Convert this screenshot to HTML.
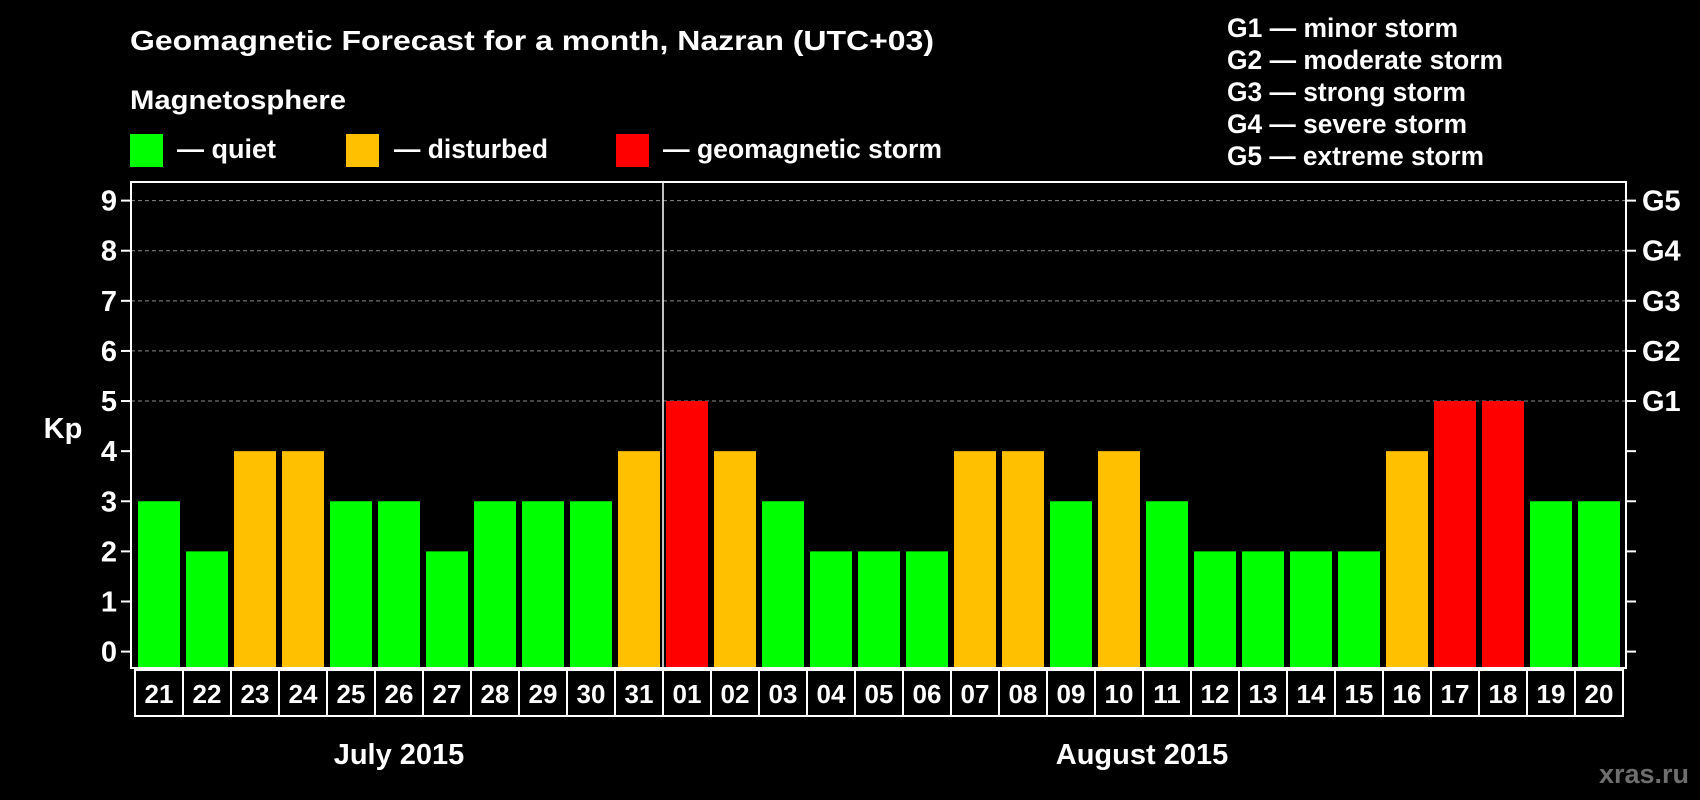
<!DOCTYPE html>
<html><head><meta charset="utf-8"><style>
html,body{margin:0;padding:0;background:#000;}
svg{display:block;font-family:"Liberation Sans",Arial,sans-serif;font-weight:bold;}
</style></head><body>
<svg id="chart" width="1700" height="800" viewBox="0 0 1700 800">
<rect x="0" y="0" width="1700" height="800" fill="#000"/>
<text x="130" y="50" fill="#fff" font-size="28" textLength="804" lengthAdjust="spacingAndGlyphs">Geomagnetic Forecast for a month, Nazran (UTC+03)</text>
<text x="130" y="109" fill="#fff" font-size="27" textLength="216" lengthAdjust="spacingAndGlyphs">Magnetosphere</text>
<g><rect x="130" y="134" width="33" height="33" fill="#00ff00"/><text x="177" y="158" fill="#fff" font-size="27" textLength="99" lengthAdjust="spacingAndGlyphs">— quiet</text></g>
<g><rect x="346" y="134" width="33" height="33" fill="#ffc000"/><text x="394" y="158" fill="#fff" font-size="27" textLength="154" lengthAdjust="spacingAndGlyphs">— disturbed</text></g>
<g><rect x="616" y="134" width="33" height="33" fill="#ff0000"/><text x="663" y="158" fill="#fff" font-size="27" textLength="279" lengthAdjust="spacingAndGlyphs">— geomagnetic storm</text></g>
<g fill="#fff" font-size="27">
<text x="1227" y="37" textLength="231" lengthAdjust="spacingAndGlyphs">G1 — minor storm</text>
<text x="1227" y="69" textLength="276" lengthAdjust="spacingAndGlyphs">G2 — moderate storm</text>
<text x="1227" y="101" textLength="239" lengthAdjust="spacingAndGlyphs">G3 — strong storm</text>
<text x="1227" y="133" textLength="240" lengthAdjust="spacingAndGlyphs">G4 — severe storm</text>
<text x="1227" y="165" textLength="257" lengthAdjust="spacingAndGlyphs">G5 — extreme storm</text>
</g>
<text x="63" y="438" fill="#fff" font-size="29" text-anchor="middle">Kp</text>
<g id="grid"></g>
<g id="bars"></g>
<g id="axes"></g>
<text x="399" y="764" fill="#fff" font-size="29" text-anchor="middle">July 2015</text>
<text x="1142" y="764" fill="#fff" font-size="29" text-anchor="middle">August 2015</text>
<text x="1689" y="783" fill="#6e6e6e" font-size="27" text-anchor="end">xras.ru</text>
</svg>
<script>
const days = ["21","22","23","24","25","26","27","28","29","30","31","01","02","03","04","05","06","07","08","09","10","11","12","13","14","15","16","17","18","19","20"];
const kpValues = [3,2,4,4,3,3,2,3,3,3,4,5,4,3,2,2,2,4,4,3,4,3,2,2,2,2,4,5,5,3,3];
const yTicks = [0,1,2,3,4,5,6,7,8,9];
const gLabels = ["G1","G2","G3","G4","G5"];
const gLevels = [5,6,7,8,9];

const NS = "http://www.w3.org/2000/svg";
const L = 131, R = 1626, T = 182, B = 668;
const y0 = 651.6, unit = (651.6 - 200.6) / 9;
const yScale = v => y0 - v * unit;
const pitch = 48, barW = 42, firstX = 138;
const xScale = i => firstX + i * pitch;
function mk(tag, attrs, parent){const e=document.createElementNS(NS,tag);for(const k in attrs)e.setAttribute(k,attrs[k]);parent.appendChild(e);return e;}
const colorFor = v => v >= 5 ? "#ff0000" : (v >= 4 ? "#ffc000" : "#00ff00");

const grid = document.getElementById("grid");
gLevels.forEach((v,i)=>{
  const ln = mk("line",{x1:L,x2:R,y1:yScale(v),y2:yScale(v),stroke:"#8a8a8a","stroke-width":1,"stroke-dasharray":"4,3"},grid);
  
  
});

const bars = document.getElementById("bars");
kpValues.forEach((v,i)=>{
  const r = mk("rect",{x:xScale(i),y:yScale(v),width:barW,height:B - yScale(v),fill:colorFor(v)},bars);
  
  
});

const axes = document.getElementById("axes");
const frame = mk("rect",{x:L,y:T,width:R-L,height:B-T,fill:"none",stroke:"#fff","stroke-width":2},axes);


const sep = mk("line",{x1:xScale(11)-3,x2:xScale(11)-3,y1:T,y2:B,stroke:"#fff","stroke-width":1.5},axes);


yTicks.forEach(v=>{
  const y=yScale(v);
  const t1=mk("line",{x1:L-10,x2:L,y1:y,y2:y,stroke:"#fff","stroke-width":2},axes);
  
  
  const t2=mk("line",{x1:R,x2:R+10,y1:y,y2:y,stroke:"#fff","stroke-width":2},axes);
  
  
  const tx=mk("text",{x:117,y:y+10,fill:"#fff","font-size":29,"text-anchor":"end"},axes);
  tx.textContent=String(v);
  
  
});
gLabels.forEach((g,i)=>{
  const tx=mk("text",{x:1642,y:yScale(gLevels[i])+10,fill:"#fff","font-size":29},axes);
  tx.textContent=g;
  
  
});
const cellL = 135, cellT = 670, cellH = 46;
const box = mk("rect",{x:cellL,y:cellT,width:pitch*days.length,height:cellH,fill:"none",stroke:"#fff","stroke-width":2},axes);


days.forEach((d,i)=>{
  if(i>0){
    const ln=mk("line",{x1:cellL+i*pitch,x2:cellL+i*pitch,y1:cellT,y2:cellT+cellH,stroke:"#fff","stroke-width":2},axes);
    
    
  }
  const tx=mk("text",{x:xScale(i)+barW/2,y:cellT+33,fill:"#fff","font-size":26,"text-anchor":"middle"},axes);
  tx.textContent=d;
  
  
});
</script>
</body></html>
